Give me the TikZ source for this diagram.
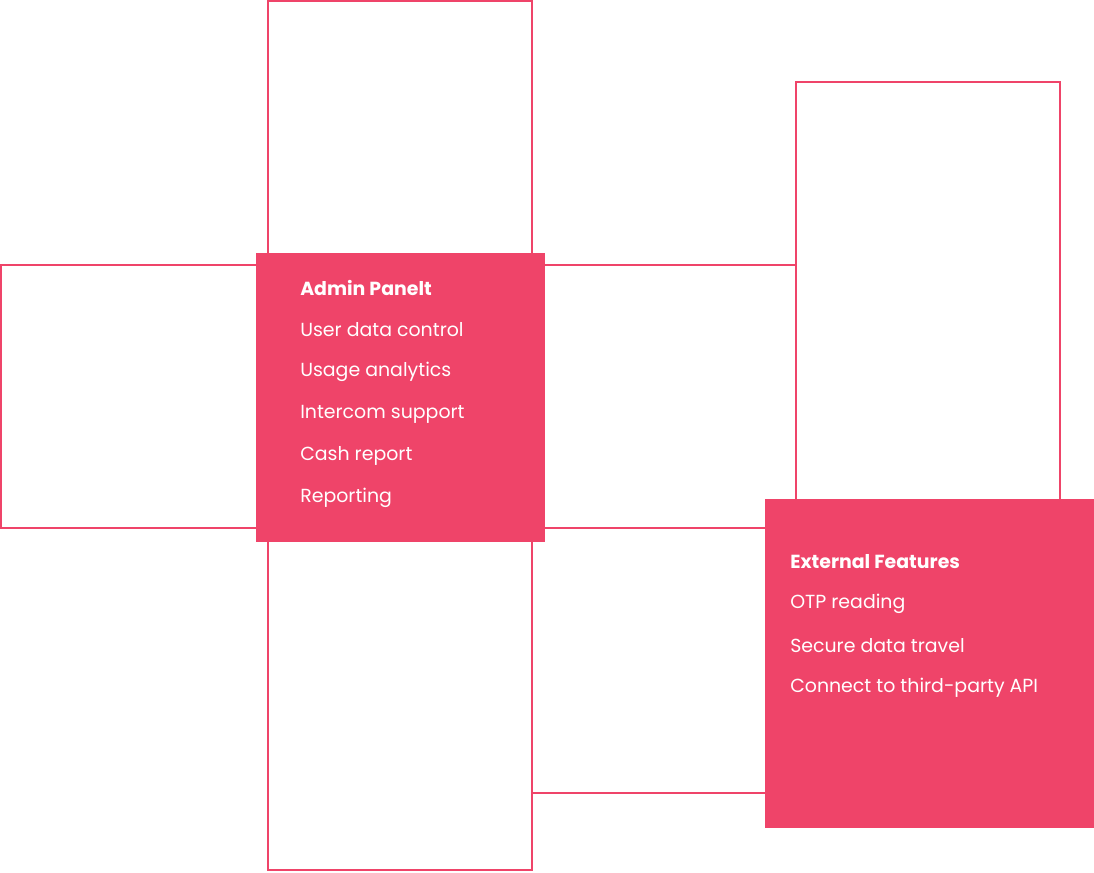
\documentclass[tikz,border=0pt]{standalone}
\usepackage{fontspec}
\setmainfont{Poppins}
\definecolor{pink}{HTML}{EF4469}
\begin{document}
\begin{tikzpicture}[x=0.75pt,y=-0.75pt,
  outl/.style={draw=pink,line width=1.2pt},
  fillbox/.style={fill=pink},
  txt/.style={anchor=west,text=white,font=\fontsize{14.2}{16}\selectfont,inner sep=0pt},
  ttl/.style={txt,font=\fontsize{14.2}{16}\selectfont\bfseries}]
\useasboundingbox (0,0) rectangle (1094,872);
\draw[outl] (268,1) rectangle (532,260);
\draw[outl] (1,265) rectangle (260,528);
\draw[outl] (540,265) -- (796,265);
\draw[outl] (540,528) -- (770,528);
\draw[outl] (268,535) rectangle (532,870);
\draw[outl] (796,82) rectangle (1060,505);
\coordinate (l1) at (532,793);
\coordinate (l2) at (770,793);
\draw[outl] (l1) -- (l2);
\fill[fillbox] (255.5,252.5) rectangle (544.5,541.5);
\fill[fillbox] (765,498.5) rectangle (1094,827.5);
\node[ttl] (a0) at (300,288) {Admin Panelt};
\node[txt] (a1) at (300,330) {User data control};
\node[txt] (a2) at (300,372) {Usage analytics};
\node[txt] (a3) at (300,414) {Intercom support};
\node[txt] (a4) at (300,456) {Cash report};
\node[txt] (a5) at (300,498) {Reporting};
\node[ttl] (e0) at (790,562) {External Features};
\node[txt] (e1) at (790,604) {OTP reading};
\node[txt] (e2) at (790,646) {Secure data travel};
\node[txt] (e3) at (790,688) {Connect to third-party API};
\end{tikzpicture}
\end{document}
